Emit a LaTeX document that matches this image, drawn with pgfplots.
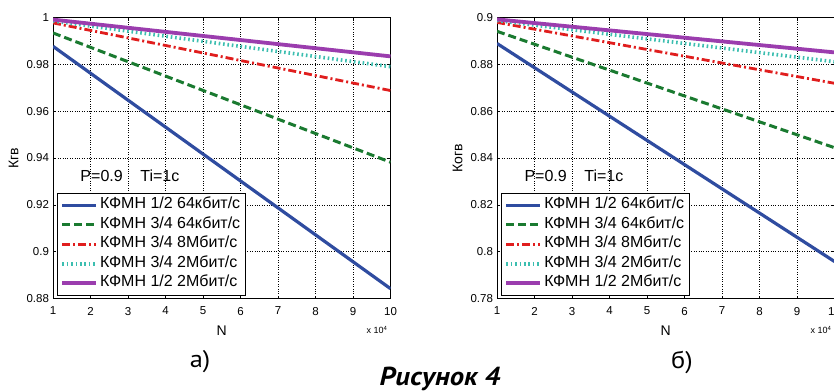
\documentclass[border=0pt]{standalone}
\usepackage{fontspec}
\setmainfont{Liberation Sans}
\newfontfamily\capfont[FakeStretch=1.1]{PT Sans}
\usepackage{pgfplots}
\pgfplotsset{compat=1.18}

\definecolor{cblue}{RGB}{47,76,160}
\definecolor{cgreen}{RGB}{26,122,48}
\definecolor{cred}{RGB}{224,30,30}
\definecolor{ccyan}{RGB}{60,190,176}
\definecolor{cpurple}{RGB}{155,61,174}

\pgfplotsset{
  kplot/.style={
    scale only axis, width=337.5pt, height=281pt,
    xmin=1, xmax=10, xtick={1,...,10},
    grid=major, grid style={black, dotted, line width=0.6pt},
    axis line style={black, line width=0.8pt},
    tick align=inside, major tick length=3pt,
    tick style={black, line width=0.6pt},
    ticklabel style={font=\fontsize{11.5}{12}\selectfont},
    /pgf/number format/assume math mode=true,
    yticklabel style={/pgf/number format/fixed, /pgf/number format/precision=2, xshift=-0.5pt},
    xticklabel style={yshift=-5pt},
    xlabel={N}, xlabel style={font=\fontsize{14}{16}\selectfont, yshift=-4pt},
    every axis y label/.style={at={(rel axis cs:0,0.5)}, xshift=-31pt, rotate=90,
      anchor=south, font=\fontsize{14}{16}\selectfont},
    legend cell align=left,
    legend image code/.code={\draw[#1] (0pt,0pt) -- (34pt,0pt);},
    legend style={at={(rel axis cs:0.012,0.009)}, anchor=south west,
      draw=black, line width=0.8pt, fill=white,
      font=\fontsize{16}{18}\selectfont,
      inner xsep=3pt, inner ysep=2.5pt, row sep=0pt,
      nodes={inner ysep=0pt, inner xsep=2pt, text height=13pt, text depth=6.5pt}},
    clip mode=individual,
  },
  s1/.style={cblue, line width=3.2pt},
  s2/.style={cgreen, line width=3pt, dash pattern=on 8pt off 4pt},
  s3/.style={cred, line width=2.8pt, dash pattern=on 8pt off 3pt on 2pt off 3pt},
  s4/.style={ccyan, line width=3.6pt, dash pattern=on 1.6pt off 2.8pt},
  s5/.style={cpurple, line width=3.8pt},
}

\begin{document}
\begin{tikzpicture}[x=1pt, y=1pt]
\useasboundingbox (0,0) rectangle (834,391);

% left panel: Kgv versus N
\begin{axis}[kplot, at={(53pt,92.5pt)}, anchor=south west,
    ymin=0.88, ymax=1, ytick={0.88,0.9,...,1.001},
    ylabel={Кгв}]
  \addplot[s1] coordinates {(1,0.9877) (10,0.8842)};
  \addplot[s2] coordinates {(1,0.9934) (10,0.9382)};
  \addplot[s3] coordinates {(1,0.9977) (10,0.9688)};
  \addplot[s4] coordinates {(1,0.9985) (10,0.9790)};
  \addplot[s5] coordinates {(1,0.9991) (10,0.9834)};
  \legend{КФМН 1/2 64кбит/с, КФМН 3/4 64кбит/с, КФМН 3/4 8Мбит/с,
          КФМН 3/4 2Мбит/с, КФМН 1/2 2Мбит/с}
  \node[anchor=base west, font=\fontsize{16}{18}\selectfont]
    at (rel axis cs:0.071,0.415) {P=0.9\hspace{1.1em}Ti=1c};
  \node[anchor=base east, font=\fontsize{9}{10}\selectfont]
    at (rel axis cs:1,0) [yshift=-35pt] {x 10\raisebox{0.6ex}{\fontsize{6}{7}\selectfont 4}};
\end{axis}

% right panel: Kogv versus N
\begin{axis}[kplot, at={(497pt,92.5pt)}, anchor=south west,
    ymin=0.78, ymax=0.9, ytick={0.78,0.8,...,0.901},
    ylabel={Когв}]
  \addplot[s1] coordinates {(1,0.8889) (10,0.7958)};
  \addplot[s2] coordinates {(1,0.8941) (10,0.8444)};
  \addplot[s3] coordinates {(1,0.8979) (10,0.8719)};
  \addplot[s4] coordinates {(1,0.8987) (10,0.8811)};
  \addplot[s5] coordinates {(1,0.8992) (10,0.8851)};
  \legend{КФМН 1/2 64кбит/с, КФМН 3/4 64кбит/с, КФМН 3/4 8Мбит/с,
          КФМН 3/4 2Мбит/с, КФМН 1/2 2Мбит/с}
  \node[anchor=base west, font=\fontsize{16}{18}\selectfont]
    at (rel axis cs:0.071,0.415) {P=0.9\hspace{1.1em}Ti=1c};
  \node[anchor=base east, font=\fontsize{9}{10}\selectfont]
    at (rel axis cs:1,0) [yshift=-35pt] {x 10\raisebox{0.6ex}{\fontsize{6}{7}\selectfont 4}};
\end{axis}

\node[font=\capfont\fontsize{24}{26}\selectfont] at (200,29) {а)};
\node[font=\capfont\fontsize{24}{26}\selectfont] at (682,29) {б)};
\node[anchor=base, font=\capfont\bfseries\itshape\fontsize{26}{28}\selectfont] at (440,6) {Рисунок 4};
\end{tikzpicture}
\end{document}
